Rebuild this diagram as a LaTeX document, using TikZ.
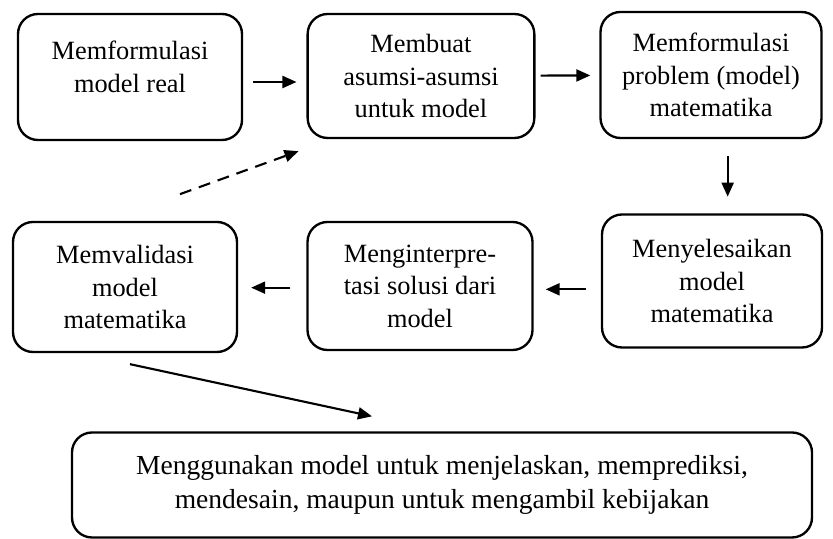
\documentclass[tikz,border=0pt]{standalone}
\usepackage{fontspec}
\setmainfont{Liberation Serif}
\usetikzlibrary{arrows.meta}
\begin{document}
\begin{tikzpicture}[
  box/.style={draw, rectangle, rounded corners=0.6cm, line width=2pt, align=center,
    font=\fontsize{22.5}{27.7}\selectfont, inner sep=0pt},
  arrow/.style={line width=1.8pt, -{Triangle[length=4.2mm,width=3.6mm]}}]
\useasboundingbox (0,0) rectangle (24.99,16.17);
\node[box, minimum width=6.72cm, minimum height=3.78cm, text depth=0.62cm] (a) at (3.90,13.86) {Memformulasi\\model real};
\node[box, minimum width=6.8cm, minimum height=3.72cm] (b) at (12.63,13.89) {Membuat\\asumsi-asumsi\\untuk model};
\node[box, minimum width=6.63cm, minimum height=3.78cm] (c) at (21.33,13.92) {Memformulasi\\problem (model)\\matematika};
\node[box, minimum width=6.6cm, minimum height=3.99cm] (d) at (21.36,7.74) {Menyelesaikan\\model\\matematika};
\node[box, minimum width=6.75cm, minimum height=3.84cm] (e) at (12.60,7.59) {Menginterpre-\\tasi solusi dari\\model};
\node[box, minimum width=6.72cm, minimum height=3.9cm] (f) at (3.75,7.56) {Memvalidasi\\model\\matematika};
\node[box, minimum width=22.2cm, minimum height=3.15cm, font=\fontsize{23.5}{28.5}\selectfont] (g) at (13.26,1.62) {Menggunakan model untuk menjelaskan, memprediksi,\\mendesain, maupun untuk mengambil kebijakan};
\draw[arrow, shorten <=0.3cm, shorten >=0.3cm] ([yshift=-0.15cm]a.east) -- ([yshift=-0.15cm]a.east -| b.west);
\draw[arrow, shorten <=0.15cm, shorten >=0.27cm] (b) -- (c);
\draw[arrow, shorten <=0.5cm, shorten >=0.5cm] ([xshift=0.5cm]c.south) -- ([xshift=0.5cm]c.south |- d.north);
\draw[arrow, shorten <=0.45cm, shorten >=0.36cm] ([yshift=-0.1cm]d.west |- e) -- ([yshift=-0.1cm]e.east);
\draw[arrow, shorten <=0.48cm, shorten >=0.39cm] ([yshift=-0.05cm]e.west) -- ([yshift=-0.05cm]e.west -| f.east);
\draw[arrow, dashed, dash pattern=on 0.36cm off 0.24cm] ([xshift=1.65cm,yshift=0.8cm]f.north) -- ([xshift=-0.24cm,yshift=-0.36cm]b.south west);
\draw[arrow] ([xshift=0.15cm,yshift=-0.33cm]f.south) -- ([xshift=-2.1cm,yshift=0.45cm]g.north);
\end{tikzpicture}
\end{document}
